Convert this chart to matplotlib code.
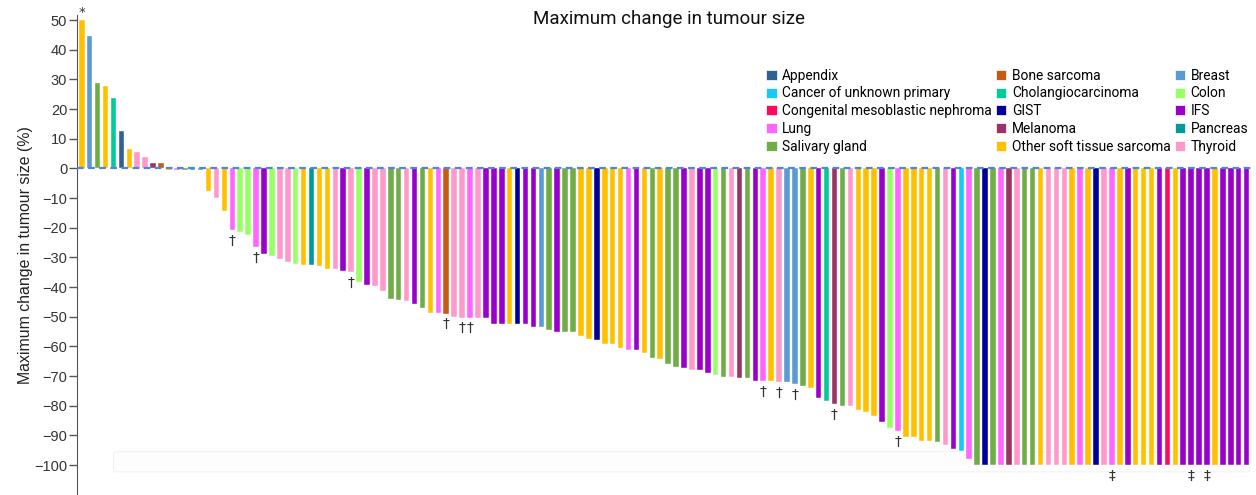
import numpy as np
from matplotlib import pyplot as plt, rcParams
from matplotlib.patches import FancyBboxPatch, Patch

rcParams["font.family"] = ["Liberation Sans", "DejaVu Sans"]

# Colours for each tumour type
colours = {
    "Appendix": "#2F6195",
    "Cancer of unknown primary": "#19C9F5",
    "Congenital mesoblastic nephroma": "#FF0A60",
    "Lung": "#FF66FF",
    "Salivary gland": "#70AD47",
    "Bone sarcoma": "#C55A11",
    "Cholangiocarcinoma": "#00CC99",
    "GIST": "#000099",
    "Melanoma": "#993366",
    "Other soft tissue sarcoma": "#FFC000",
    "Breast": "#5B9BD5",
    "Colon": "#99FF66",
    "IFS": "#9900CC",
    "Pancreas": "#009999",
    "Thyroid": "#FF99CC",
}

# one entry per patient, in waterfall order
tumour = [
    "Other soft tissue sarcoma", "Breast", "Salivary gland", "Other soft tissue sarcoma",
    "Cholangiocarcinoma", "Appendix", "Other soft tissue sarcoma", "Thyroid", "Thyroid",
    "Melanoma", "Bone sarcoma", "Other soft tissue sarcoma", "Lung", "Salivary gland",
    "Cholangiocarcinoma", "Breast",
    "Other soft tissue sarcoma", "Thyroid", "Other soft tissue sarcoma", "Lung", "Colon",
    "Colon", "Lung", "IFS", "Colon", "Thyroid", "Thyroid", "Colon",
    "Other soft tissue sarcoma", "Pancreas", "Other soft tissue sarcoma",
    "Other soft tissue sarcoma", "Thyroid", "IFS", "Thyroid", "Colon", "IFS", "Thyroid",
    "Thyroid", "Salivary gland", "Salivary gland", "Thyroid", "IFS", "Salivary gland",
    "Other soft tissue sarcoma", "Lung", "Bone sarcoma",
    "Thyroid", "Thyroid", "Lung", "Thyroid", "IFS", "IFS", "IFS",
    "Other soft tissue sarcoma", "GIST", "IFS", "IFS", "Breast", "Salivary gland", "IFS",
    "Salivary gland", "Salivary gland", "Other soft tissue sarcoma",
    "Other soft tissue sarcoma", "GIST", "Other soft tissue sarcoma",
    "Other soft tissue sarcoma", "Other soft tissue sarcoma", "Lung", "IFS",
    "Other soft tissue sarcoma", "Salivary gland", "Other soft tissue sarcoma",
    "Salivary gland", "Salivary gland", "IFS", "Thyroid", "IFS", "IFS", "Colon",
    "Salivary gland", "Thyroid", "Melanoma", "Salivary gland", "IFS", "Lung",
    "Other soft tissue sarcoma", "Thyroid", "Breast", "Breast", "Salivary gland",
    "Other soft tissue sarcoma", "IFS", "Cholangiocarcinoma", "Melanoma",
    "Salivary gland", "Thyroid", "Other soft tissue sarcoma", "Other soft tissue sarcoma",
    "Other soft tissue sarcoma", "IFS", "Colon", "Lung", "Other soft tissue sarcoma",
    "Other soft tissue sarcoma", "Other soft tissue sarcoma", "Other soft tissue sarcoma",
    "Salivary gland", "Thyroid", "IFS", "Cancer of unknown primary", "Lung",
    "Salivary gland", "GIST", "Salivary gland", "Lung", "Melanoma", "Thyroid",
    "Salivary gland", "Salivary gland", "Other soft tissue sarcoma", "Thyroid", "Thyroid",
    "Thyroid", "Other soft tissue sarcoma", "Lung", "Other soft tissue sarcoma", "GIST",
    "Thyroid", "Lung", "Other soft tissue sarcoma", "IFS", "Other soft tissue sarcoma",
    "Other soft tissue sarcoma", "Other soft tissue sarcoma", "IFS",
    "Congenital mesoblastic nephroma", "Other soft tissue sarcoma", "IFS", "IFS", "IFS",
    "IFS", "Other soft tissue sarcoma", "IFS", "IFS", "IFS", "IFS",
]

change = [
    50, 44.6, 28.7, 27.8, 23.7, 12.5, 6.5, 5.5, 3.9, 1.7, 1.8,
    -0.7, -0.7, -0.7, -0.7, -0.7,
    -7.5, -10.1, -14.3, -20.8, -21.6, -22.5, -26.5, -29, -29.5, -30.7, -31.6, -32.3,
    -32.5, -32.6, -33, -34, -34, -34.7, -35, -38.4, -39.4, -39.8, -41.5, -44.2, -44.5,
    -44.7, -45.8, -47.2, -48.7, -48.7, -49,
    -50.2, -50.3, -50.3, -50.3, -50.3, -52.5, -52.5, -52.5, -52.5, -52.5, -53.5, -53.5,
    -54.5, -55, -55, -55, -56.5, -57.6, -58, -59.3, -59.3, -60.7, -61.3, -61.3, -62.4,
    -64, -64.4, -66, -67, -67.3, -68, -68, -69, -69.7, -70.3, -70.3, -70.8, -70.8,
    -71.7, -71.7, -71.7, -72, -72.1, -72.8, -73.4, -74.2, -77.3, -78.3, -79.5, -80, -80,
    -81.3, -82, -83.5, -85.4, -87.5, -88.5, -90.5, -90.5, -92, -92, -92.3, -93.3,
    -94.6, -95.3, -98,
    -100, -100, -100, -100, -100, -100, -100, -100, -100, -100, -100, -100, -100, -100,
    -100, -100, -100, -100, -100, -100, -100, -100, -100, -100, -100, -100, -100, -100,
    -100, -100, -100, -100, -100, -100, -100,
]

# footnote symbols (patient number -> symbol)
notes = {
    1: "*",
    20: "†", 23: "†", 35: "†", 47: "†", 49: "†", 50: "†",
    87: "†", 89: "†", 91: "†", 96: "†", 104: "†",
    131: "‡", 141: "‡", 143: "‡",
}

legend_order = [
    "Appendix", "Cancer of unknown primary", "Congenital mesoblastic nephroma", "Lung",
    "Salivary gland", "Bone sarcoma", "Cholangiocarcinoma", "GIST", "Melanoma",
    "Other soft tissue sarcoma", "Breast", "Colon", "IFS", "Pancreas", "Thyroid",
]

# %% Make the figure
fig = plt.figure(figsize=(12.56, 4.95), dpi=100)
ax = fig.add_axes([0.0613, 0.0, 0.935, 0.9697])

x = np.arange(1, len(change) + 1)
ax.bar(
    x,
    change,
    width=0.7,
    color=[colours[t] for t in tumour],
    edgecolor="white",
    linewidth=0.3,
    zorder=2,
)
ax.axhline(0, color="#4F86D6", lw=1.6, ls=(0, (3, 2)), zorder=3)

# faint box near the bottom
ax.add_patch(
    FancyBboxPatch(
        (5.0, -102.3), 143.4, 6.8,
        boxstyle="round,pad=0,rounding_size=0.4",
        fc="#fdfdfd", ec="#efefef", lw=0.6, zorder=1,
    )
)

for i, s in notes.items():
    v = change[i - 1]
    if v > 0:
        ax.text(i, v + 0.3, s, ha="center", va="bottom", fontsize=9.5,
                color="#333333", clip_on=False, family="DejaVu Sans")
    else:
        ax.text(i, v - 1.2, s, ha="center", va="top", fontsize=10,
                color="#333333", family="DejaVu Sans")

ax.set_xlim(0.4, len(change) + 0.6)
ax.set_ylim(-110.1, 51.7)
ax.set_yticks(np.arange(-100, 51, 10))
ax.set_xticks([])
for side in ["top", "right", "bottom"]:
    ax.spines[side].set_visible(False)
ax.spines["left"].set_color("#555555")
ax.tick_params(axis="y", labelsize=10.5, colors="#555555", labelcolor="#333333",
               length=6, width=1, pad=1)
ax.set_ylabel("Maximum change in tumour size (%)", fontsize=11.4, color="#222222",
              labelpad=1)

fig.text(0.533, 0.962, "Maximum change in tumour size", ha="center", va="center",
         fontsize=13.5, family=["Roboto", "DejaVu Sans"], color="#111111")

handles = [Patch(facecolor=colours[k], edgecolor="white", lw=0.5) for k in legend_order]
ax.legend(
    handles,
    legend_order,
    ncol=3,
    loc="upper left",
    bbox_to_anchor=(0.587, 0.888),
    frameon=False,
    prop={"family": ["Roboto", "DejaVu Sans"], "size": 9.9},
    handlelength=0.75,
    handleheight=0.75,
    handletextpad=0.4,
    columnspacing=0.3,
    labelspacing=0.27,
    borderaxespad=0,
    borderpad=0,
)

fig.savefig("out.png", dpi=100)
